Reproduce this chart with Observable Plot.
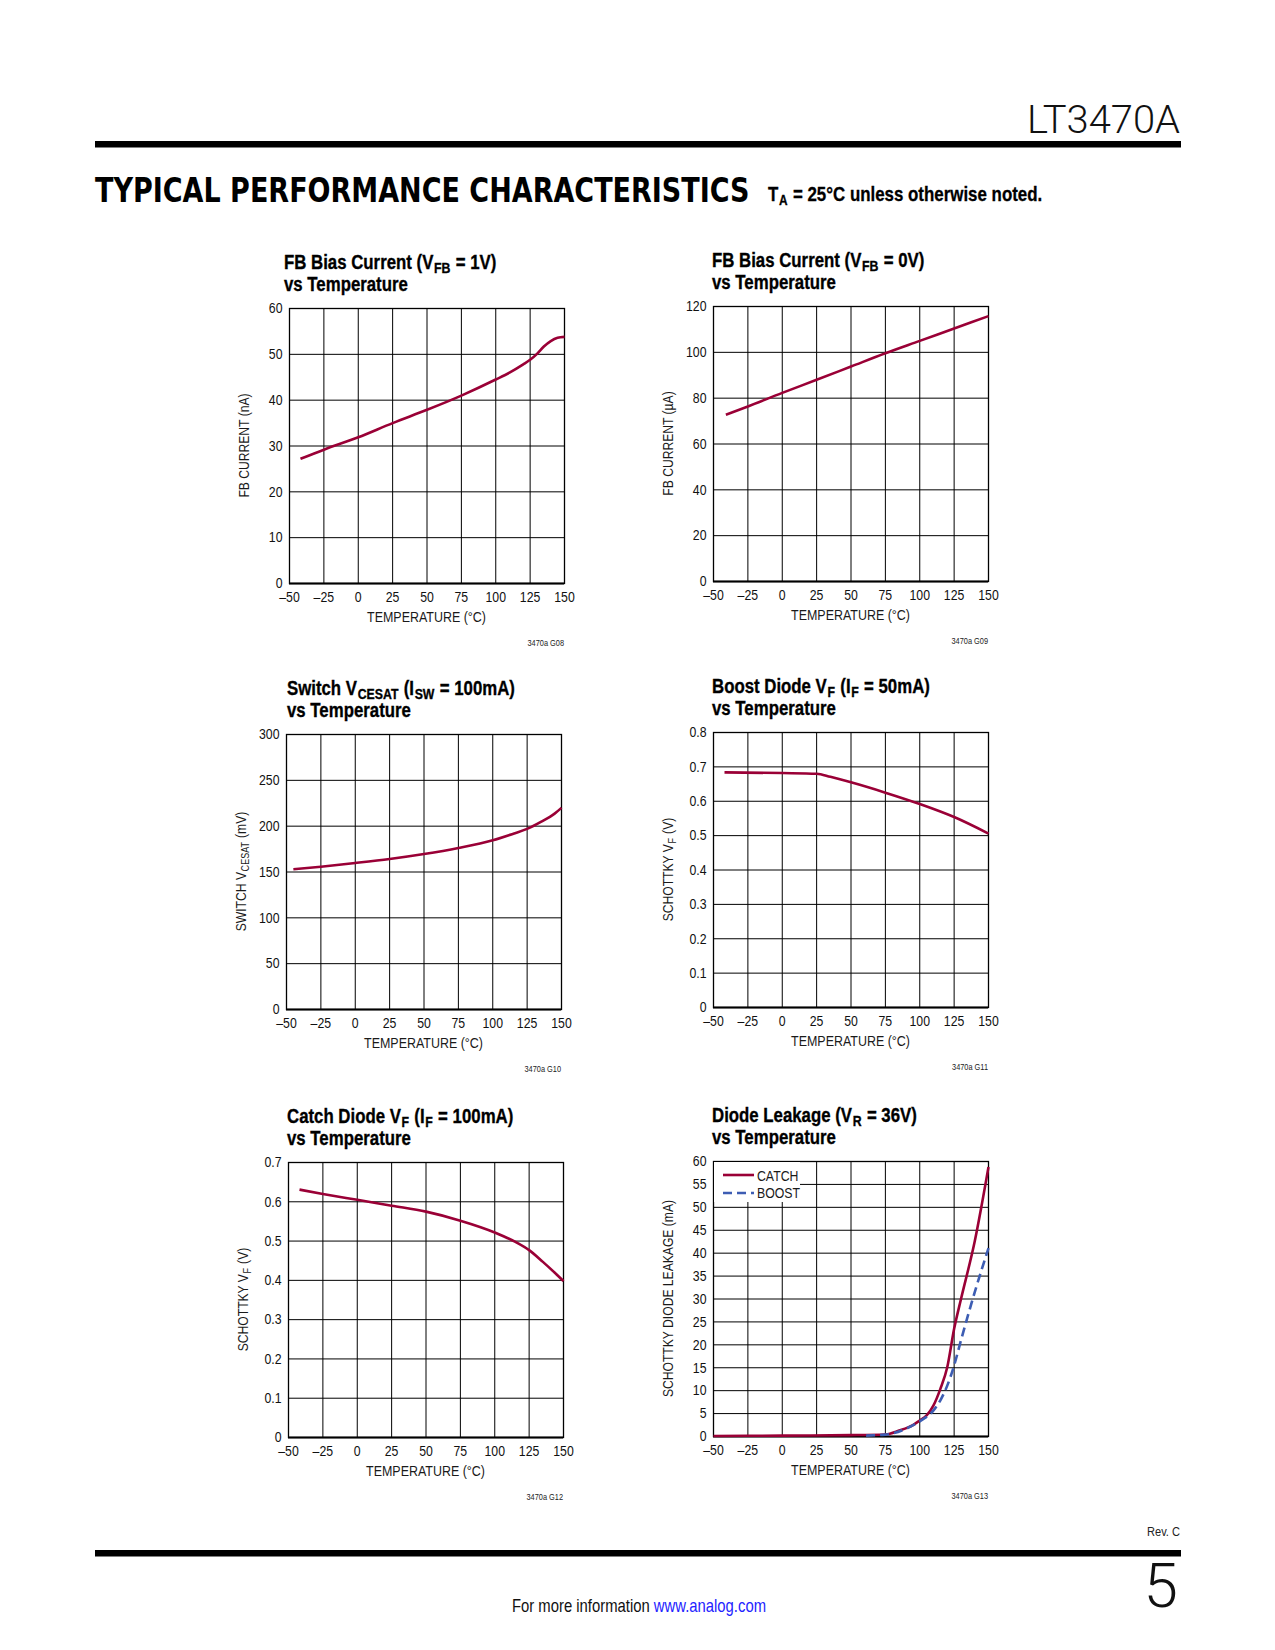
<!DOCTYPE html>
<html>
<head>
<meta charset="utf-8">
<script src="https://cdn.jsdelivr.net/npm/d3@7"></script>
<script src="https://cdn.jsdelivr.net/npm/@observablehq/plot@0.6"></script>
<style>
  html, body { margin: 0; padding: 0; background: #fff; }
  #page { position: relative; width: 1275px; height: 1650px; overflow: hidden; background: #fff; }
  .plotbox { position: absolute; }
  #overlay { position: absolute; left: 0; top: 0; pointer-events: none; }
</style>
</head>
<body>
<div id="page"></div>
<script>
// ---------------- DATA ----------------
const xTicks = [-50, -25, 0, 25, 50, 75, 100, 125, 150];

// FB Bias Current (VFB = 1V) vs Temperature  (nA)
const fb1Temp    = [-42, -25, 0, 25, 50, 75, 100, 110, 120, 125, 130, 135, 140, 145, 150];
const fb1Current = [27.2, 29.2, 31.9, 35.0, 37.9, 41.0, 44.5, 46.0, 47.8, 48.8, 50.1, 51.7, 52.9, 53.6, 53.8];
const fb1Ticks   = [0, 10, 20, 30, 40, 50, 60];

// FB Bias Current (VFB = 0V) vs Temperature  (µA)
const fb0Temp    = [-41, -25, 0, 25, 50, 75, 100, 125, 150];
const fb0Current = [72.8, 76.4, 82.3, 88.0, 93.8, 99.6, 105.0, 110.4, 115.8];
const fb0Ticks   = [0, 20, 40, 60, 80, 100, 120];

// Switch VCESAT (ISW = 100mA) vs Temperature (mV)
const vceTemp  = [-45, -25, 0, 25, 50, 75, 100, 115, 125, 135, 145, 150];
const vceSat   = [153, 155.8, 159.8, 164.2, 169.6, 176.2, 184.6, 191.8, 197, 204.6, 213.7, 220];
const vceTicks = [0, 50, 100, 150, 200, 250, 300];

// Boost Diode VF (IF = 50mA) vs Temperature (V)
const boostVfTemp = [-42, 0, 25, 35, 50, 75, 100, 125, 150];
const boostVf     = [0.684, 0.682, 0.680, 0.671, 0.655, 0.625, 0.592, 0.554, 0.506];
const boostVfTicks = [0, 0.1, 0.2, 0.3, 0.4, 0.5, 0.6, 0.7, 0.8];

// Catch Diode VF (IF = 100mA) vs Temperature (V)
const catchVfTemp = [-42, -25, 0, 25, 50, 75, 100, 115, 125, 135, 145, 150];
const catchVf     = [0.631, 0.620, 0.605, 0.590, 0.575, 0.552, 0.522, 0.498, 0.477, 0.447, 0.415, 0.398];
const catchVfTicks = [0, 0.1, 0.2, 0.3, 0.4, 0.5, 0.6, 0.7];

// Diode Leakage (VR = 36V) vs Temperature (mA)
const catchLeakTemp = [-50, 0, 50, 75, 85, 95, 100, 105, 110, 115, 120, 125, 130, 140, 150];
const catchLeak     = [0.1, 0.2, 0.3, 0.45, 1.3, 2.5, 3.5, 4.6, 6.8, 10.4, 15.1, 23.5, 30.0, 42.6, 58.8];
const boostLeakTemp = [61, 75, 90, 100, 110, 115, 120, 125, 130, 140, 150];
const boostLeak     = [0.2, 0.4, 1.7, 3.3, 5.7, 7.9, 11.1, 15.5, 21.0, 31.5, 41.1];
const leakTicks     = [0, 5, 10, 15, 20, 25, 30, 35, 40, 45, 50, 55, 60];
const leakSeries    = ["CATCH", "BOOST"];

// ---------------- STYLE ----------------
const SANS = "'Liberation Sans', Arial, Helvetica, sans-serif";
const NX = 0.82;                        // horizontal condensing factor (narrow look)
const RED = "#9a0036";
const BLUE = "#3d5db3";
const FW = 275, FH = 275;               // frame size
const ML = 60, MR = 15, MT = 10, MB = 50;

const fmtX = d => d < 0 ? "\u2013" + (-d) : String(d);
const fmtDec = d => d === 0 ? "0" : d.toFixed(1);
const fmtInt = d => String(d);

function rows(xs, ys, key) { return xs.map((x, i) => ({x, y: ys[i], key})); }

const charts = [
  { L: 289, T: 308, tx: 284, ticks: fb1Ticks, fmt: fmtInt, code: "3470a G08",
    title: [["FB Bias Current (V", {sub: "FB"}, " = 1V)"], ["vs Temperature"]],
    ylabel: ["FB CURRENT (nA)"],
    series: [{data: rows(fb1Temp, fb1Current), stroke: RED}] },
  { L: 713, T: 306, tx: 712, ticks: fb0Ticks, fmt: fmtInt, code: "3470a G09",
    title: [["FB Bias Current (V", {sub: "FB"}, " = 0V)"], ["vs Temperature"]],
    ylabel: ["FB CURRENT (\u00b5A)"],
    series: [{data: rows(fb0Temp, fb0Current), stroke: RED}] },
  { L: 286, T: 734, tx: 287, ticks: vceTicks, fmt: fmtInt, code: "3470a G10",
    title: [["Switch V", {sub: "CESAT"}, " (I", {sub: "SW"}, " = 100mA)"], ["vs Temperature"]],
    ylabel: ["SWITCH V", {sub: "CESAT"}, " (mV)"],
    series: [{data: rows(vceTemp, vceSat), stroke: RED}] },
  { L: 713, T: 732, tx: 712, ticks: boostVfTicks, fmt: fmtDec, code: "3470a G11",
    title: [["Boost Diode V", {sub: "F"}, " (I", {sub: "F"}, " = 50mA)"], ["vs Temperature"]],
    ylabel: ["SCHOTTKY V", {sub: "F"}, " (V)"],
    series: [{data: rows(boostVfTemp, boostVf), stroke: RED}] },
  { L: 288, T: 1162, tx: 287, ticks: catchVfTicks, fmt: fmtDec, code: "3470a G12",
    title: [["Catch Diode V", {sub: "F"}, " (I", {sub: "F"}, " = 100mA)"], ["vs Temperature"]],
    ylabel: ["SCHOTTKY V", {sub: "F"}, " (V)"],
    series: [{data: rows(catchVfTemp, catchVf), stroke: RED}] },
  { L: 713, T: 1161, tx: 712, ticks: leakTicks, fmt: fmtInt, code: "3470a G13",
    title: [["Diode Leakage (V", {sub: "R"}, " = 36V)"], ["vs Temperature"]],
    ylabel: ["SCHOTTKY DIODE LEAKAGE (mA)"],
    legend: true,
    series: [
      {data: rows(catchLeakTemp, catchLeak, leakSeries[0]), stroke: RED},
      {data: rows(boostLeakTemp, boostLeak, leakSeries[1]), stroke: BLUE, dash: "9,5"}
    ] }
];

const page = document.getElementById("page");

// ---------------- PLOTS ----------------
for (const c of charts) {
  const ymax = c.ticks[c.ticks.length - 1];
  const marks = [
    Plot.ruleX(xTicks, {stroke: "#000", strokeWidth: 1}),
    Plot.ruleY(c.ticks, {stroke: "#000", strokeWidth: 1}),
    Plot.frame({stroke: "#000", strokeWidth: 1.3}),
    Plot.ruleY([0], {stroke: "#000", strokeWidth: 2.2})
  ];
  for (const s of c.series) {
    marks.push(Plot.line(s.data, {x: "x", y: "y", stroke: s.stroke, strokeWidth: 2.6,
      strokeDasharray: s.dash, curve: "monotone-x", strokeLinecap: "butt"}));
  }
  const svg = Plot.plot({
    width: ML + FW + MR, height: MT + FH + MB,
    marginLeft: ML, marginRight: MR, marginTop: MT, marginBottom: MB,
    x: {domain: [-50, 150], ticks: xTicks, tickFormat: fmtX, tickSize: 0, tickPadding: 8, label: null},
    y: {domain: [0, ymax], ticks: c.ticks, tickFormat: c.fmt, tickSize: 0, tickPadding: 7, label: null},
    marks,
    style: {fontFamily: SANS, fontSize: "15px", color: "#111", background: "transparent",
            overflow: "visible", maxWidth: "none"}
  });
  // condense tick labels horizontally about their own anchor point
  svg.querySelectorAll("text").forEach(t => {
    const x = parseFloat(t.getAttribute("x")) || 0;
    const tr = t.getAttribute("transform") || "";
    t.setAttribute("transform", `${tr} translate(${x},0) scale(${NX},1) translate(${-x},0)`);
  });
  const box = document.createElement("div");
  box.className = "plotbox";
  box.style.left = (c.L - ML) + "px";
  box.style.top = (c.T - MT) + "px";
  box.appendChild(svg);
  page.appendChild(box);
}

// ---------------- TEXT OVERLAY ----------------
function esc(s) { return s.replace(/&/g, "&amp;").replace(/</g, "&lt;"); }
function rich(parts, shift, subSize) {
  let out = "", shifted = false;
  for (const p of parts) {
    if (typeof p === "string") {
      out += shifted ? `<tspan dx="0.8" dy="${-shift}">${esc(p)}</tspan>` : esc(p);
      shifted = false;
    } else {
      out += `<tspan dx="0.8" dy="${shift}" font-size="${subSize}">${esc(p.sub)}</tspan>`;
      shifted = true;
    }
  }
  return out;
}
// narrow text element: condensed about its anchor x
function ntext(x, y, inner, attrs = "", rot = false) {
  const base = rot ? `rotate(-90 ${x} ${y}) ` : "";
  return `<text x="${x}" y="${y}" font-family="${SANS}" ${attrs} transform="${base}translate(${x},0) scale(${NX},1) translate(${-x},0)">${inner}</text>`;
}
const TITLE_ATTR = `font-weight="bold" font-size="20.5" fill="#000" stroke="#000" stroke-width="0.35"`;

let o = "";
// header
o += `<text id="hdr-part" x="1180" y="133" text-anchor="end" font-family="Roboto, 'Liberation Sans', sans-serif" font-weight="300" font-size="39" fill="#111">LT3470A</text>`;
o += `<rect x="95" y="141" width="1086" height="6.5" fill="#000"/>`;
o += `<text id="hdr-title" x="95" y="202" font-family="'DejaVu Sans', sans-serif" font-weight="bold" font-size="34" fill="#000">TYPICAL PERFORMANCE CHARACTERISTICS</text>`;
o += ntext(768, 201, rich(["T", {sub: "A"}, " = 25\u00b0C unless otherwise noted."], 4, 14.5),
  `font-weight="bold" font-size="20.6" fill="#000" stroke="#000" stroke-width="0.3"`);

// charts text
for (const c of charts) {
  const cx = c.L + FW / 2, cy = c.T + FH / 2;
  o += ntext(c.tx, c.T - 39, rich(c.title[0], 4, 15), TITLE_ATTR);
  o += ntext(c.tx, c.T - 17, rich(c.title[1], 4, 15), TITLE_ATTR);
  o += ntext(c.L - 45, cy, rich(c.ylabel, 3, 11), `dy="0.36em" text-anchor="middle" font-size="14.8" fill="#1a1a1a"`, true);
  o += ntext(cx, c.T + FH + 39, "TEMPERATURE (\u00b0C)", `text-anchor="middle" font-size="15.2" fill="#1a1a1a"`);
  o += ntext(c.L + FW, c.T + FH + 63, c.code, `text-anchor="end" font-size="9" fill="#222"`);
  if (c.legend) {
    const lx = c.L, ly = c.T;
    o += `<rect x="${lx + 1}" y="${ly + 1}" width="86" height="40" fill="#fff"/>`;
    o += `<line x1="${lx + 10}" x2="${lx + 41}" y1="${ly + 14}" y2="${ly + 14}" stroke="${RED}" stroke-width="2.6"/>`;
    o += `<line x1="${lx + 10}" x2="${lx + 41}" y1="${ly + 32}" y2="${ly + 32}" stroke="${BLUE}" stroke-width="2.6" stroke-dasharray="9,5"/>`;
    o += ntext(lx + 44, ly + 20, leakSeries[0], `font-size="15" fill="#1a1a1a"`);
    o += ntext(lx + 44, ly + 37, leakSeries[1], `font-size="15" fill="#1a1a1a"`);
  }
}

// footer
o += ntext(1180, 1536, "Rev. C", `text-anchor="end" font-size="13.5" fill="#222"`);
o += `<rect x="95" y="1550" width="1086" height="6.5" fill="#000"/>`;
o += `<text x="1178" y="1607" text-anchor="end" font-family="Roboto, 'Liberation Sans', sans-serif" font-weight="300" font-size="62" fill="#111">5</text>`;
o += ntext(512, 1612, `For more information <tspan fill="#2323ff">www.analog.com</tspan>`, `font-size="18.1" fill="#111"`);

const ov = document.createElementNS("http://www.w3.org/2000/svg", "svg");
ov.setAttribute("id", "overlay");
ov.setAttribute("width", "1275");
ov.setAttribute("height", "1650");
ov.innerHTML = o;
page.appendChild(ov);

// fit header texts to their measured widths by scaling about their anchor
function fitWidth(id, anchorX, target) {
  const el = ov.querySelector("#" + id);
  const w = el.getComputedTextLength();
  if (w > 0) {
    const s = target / w;
    el.setAttribute("transform", `translate(${anchorX},0) scale(${s},1) translate(${-anchorX},0)`);
  }
}
fitWidth("hdr-title", 95, 655);
fitWidth("hdr-part", 1180, 153);
</script>
</body>
</html>
